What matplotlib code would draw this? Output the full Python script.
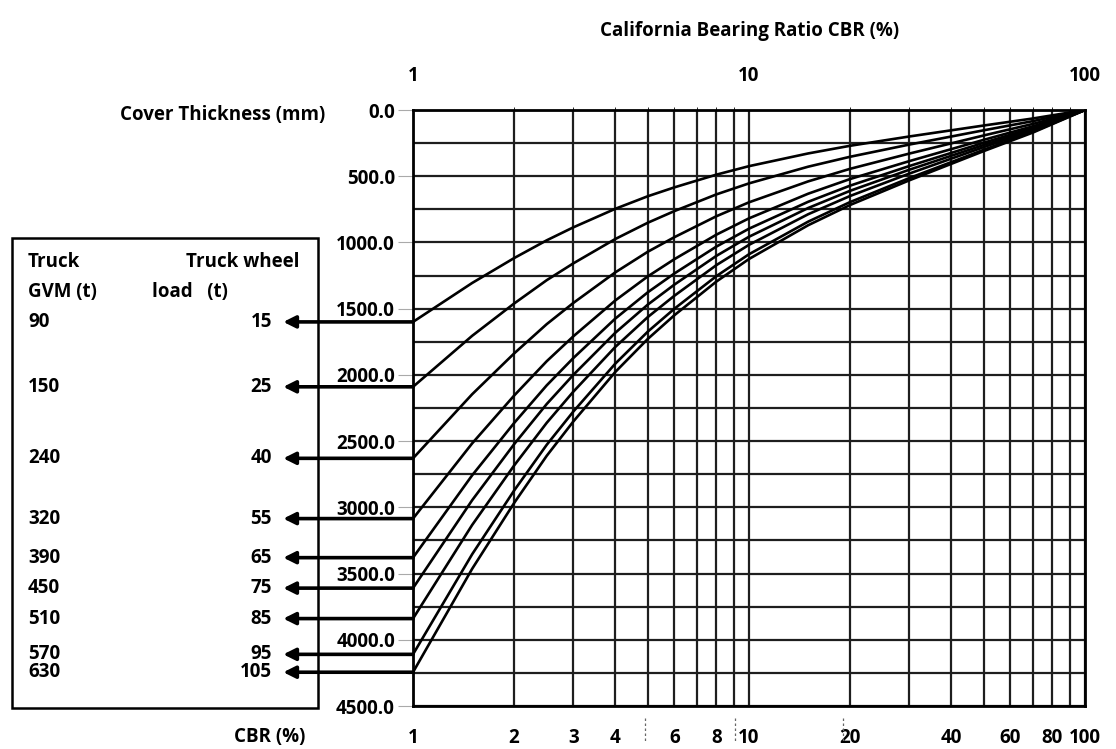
import numpy as np
import matplotlib
matplotlib.use('Agg')
import matplotlib.pyplot as plt
from matplotlib.patches import Rectangle
from matplotlib.transforms import blended_transform_factory

plt.rcParams['font.family'] = ['Open Sans', 'DejaVu Sans']
plt.rcParams['font.weight'] = 'bold'
plt.rcParams['font.size'] = 13.5

cbr = [1, 1.5, 2, 2.5, 3, 4, 5, 6, 8, 10, 15, 20, 30, 50, 70, 100]

# truck gross vehicle mass and wheel load (t)
gvm = [90, 150, 240, 320, 390, 450, 510, 570, 630]
wheel_load = [15, 25, 40, 55, 65, 75, 85, 95, 105]

# cover thickness (mm), one row per wheel load
cover = [
    [1600, 1306, 1118, 984, 886, 746, 651, 584, 488, 424, 328, 270, 200, 117, 64, 0],
    [2090, 1705, 1461, 1285, 1158, 974, 851, 763, 637, 554, 428, 353, 261, 153, 84, 0],
    [2630, 2146, 1838, 1617, 1457, 1226, 1070, 960, 802, 697, 539, 444, 329, 192, 105, 0],
    [3085, 2517, 2156, 1897, 1709, 1438, 1256, 1126, 941, 818, 632, 521, 386, 225, 123, 0],
    [3380, 2758, 2363, 2079, 1873, 1575, 1376, 1234, 1031, 896, 693, 571, 423, 247, 135, 0],
    [3610, 2946, 2523, 2220, 2000, 1682, 1469, 1318, 1101, 957, 740, 610, 451, 264, 144, 0],
    [3840, 3133, 2684, 2362, 2127, 1789, 1563, 1402, 1171, 1018, 787, 649, 480, 280, 154, 0],
    [4110, 3354, 2873, 2528, 2277, 1915, 1673, 1500, 1254, 1089, 843, 695, 514, 300, 164, 0],
    [4245, 3464, 2967, 2611, 2352, 1978, 1728, 1549, 1295, 1125, 870, 717, 531, 310, 170, 0],
]

bottom_ticks = [1, 2, 3, 4, 6, 8, 10, 20, 40, 60, 80, 100]
other_grid = [5, 7, 9, 30, 50, 70, 90]
top_ticks = [1, 10, 100]

W, H = 1116, 749
def fx(px): return px / W
def fy(py): return 1 - py / H

fig = plt.figure(figsize=(W / 100, H / 100), dpi=100)
ax = fig.add_axes([fx(413), fy(706), (1085 - 413) / W, (706 - 110) / H])

for row in cover:
    ax.plot(cbr, row, color='black', lw=1.9, solid_capstyle='round', zorder=3)

ax.set_xscale('log')
ax.set_xlim(1, 100)
ax.set_ylim(4500, 0)

ax.set_xticks(bottom_ticks)
ax.set_xticklabels([str(v) for v in bottom_ticks])
ax.set_xticks(other_grid, minor=True)
ax.set_xticklabels([], minor=True)
ax.set_yticks(np.arange(0, 4501, 500))
ax.set_yticklabels([f'{v:.1f}' for v in np.arange(0, 4501, 500)])
ax.set_yticks(np.arange(250, 4500, 500), minor=True)

ax.grid(True, which='both', color='#1e1e1e', lw=1.6)
ax.set_axisbelow(True)
ax.tick_params(axis='x', which='both', length=0, pad=16)
ax.tick_params(axis='y', which='major', length=11, color='#aaaaaa', pad=2)
ax.tick_params(axis='y', which='minor', length=0)
for s in ax.spines.values():
    s.set_linewidth(2)

top = ax.secondary_xaxis('top')
top.set_xticks(top_ticks)
top.set_xticklabels([str(v) for v in top_ticks])
top.tick_params(length=0, pad=17)
top.spines['top'].set_visible(False)

trans = blended_transform_factory(ax.transAxes, ax.transData)
for g, w, row in zip(gvm, wheel_load, cover):
    ax.annotate('', xy=(-0.193, row[0]), xycoords=trans,
                xytext=(0, row[0]), textcoords=trans, annotation_clip=False,
                arrowprops=dict(arrowstyle='-|>', color='black', lw=2.6,
                                mutation_scale=18, shrinkA=0, shrinkB=0))
    ax.text(-0.21, row[0], str(w), transform=trans, ha='right', va='center')
    ax.text(-0.573, row[0], str(g), transform=trans, ha='left', va='center')

# little dashed markers under the bottom axis
mark = blended_transform_factory(ax.transData, ax.transAxes)
for v in [4.9, 9.1, 19]:
    ax.plot([v, v], [-0.02, -0.062], transform=mark, color='#666666',
            lw=0.9, ls=(0, (2, 2)), clip_on=False)

fig.add_artist(Rectangle((fx(12), fy(708)), (318 - 12) / W, (708 - 238) / H,
                         transform=fig.transFigure, fill=False, lw=1.8,
                         edgecolor='black'))
fig.text(fx(28), fy(262), 'Truck', ha='left', va='center')
fig.text(fx(300), fy(262), 'Truck wheel', ha='right', va='center')
fig.text(fx(28), fy(292), 'GVM (t)', ha='left', va='center')
fig.text(fx(152), fy(292), 'load   (t)', ha='left', va='center')

fig.text(fx(750), fy(31), 'California Bearing Ratio CBR (%)', ha='center', va='center')
fig.text(fx(325), fy(115), 'Cover Thickness (mm)', ha='right', va='center')
fig.text(fx(270), fy(737), 'CBR (%)', ha='center', va='center')

fig.savefig('out.png', dpi=100, facecolor='white')
